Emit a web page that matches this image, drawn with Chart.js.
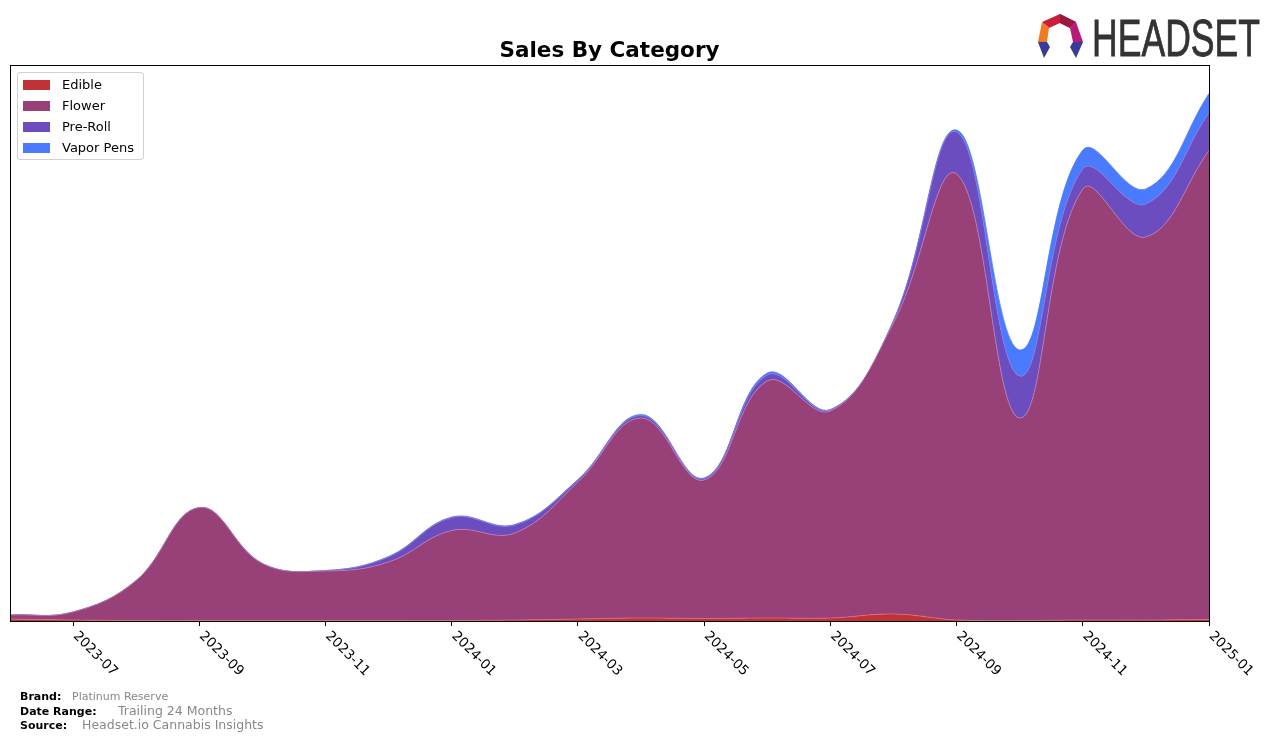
<!DOCTYPE html>
<html>
<head>
<meta charset="utf-8">
<script src="https://cdn.jsdelivr.net/npm/chart.js@4"></script>
<style>
  body { margin: 0; background: #fff; font-family: "DejaVu Sans", sans-serif; }
  #wrap { position: relative; width: 1276px; height: 741px; }
  #chart { position: absolute; left: 0; top: 0; }
  #title { position: absolute; left: 10px; width: 1199px; top: 39px; text-align: center; font-weight: bold; font-size: 21.5px; line-height: 1; }
  #legend { position: absolute; left: 17px; top: 72px; width: 125px; height: 86px; border: 1px solid #d0d0d0; border-radius: 3px; background: rgba(255,255,255,0.8); }
  .item { position: absolute; left: 5px; height: 20px; font-size: 13px; line-height: 20px; }
  .sw { position: absolute; left: 0; top: 5px; width: 27px; height: 10px; }
  .lab { position: absolute; left: 39px; white-space: nowrap; }
  .foot { position: absolute; left: 20px; font-size: 11px; line-height: 1; white-space: nowrap; }
  .foot b { color: #000; }
  .foot span { position: absolute; color: #888; }
  #logo { position: absolute; left: 1036px; top: 12px; }
</style>
</head>
<body>
<div id="wrap">
  <canvas id="chart" width="1276" height="741"></canvas>
  <div id="title">Sales By Category</div>
  <div id="legend"></div>
  <div class="foot" style="top:691px"><b>Brand:</b><span style="left:52px;top:0">Platinum Reserve</span></div>
  <div class="foot" style="top:706px"><b>Date Range:</b><span style="left:98px;top:-1px;font-size:12.5px">Trailing 24 Months</span></div>
  <div class="foot" style="top:720px"><b>Source:</b><span style="left:62px;top:-1px;font-size:12.5px">Headset.io Cannabis Insights</span></div>
  <svg id="logo" width="230" height="50">
    <polygon points="6,10 24,2 40,10 34,16 24,11 13,16" fill="#c8203c"/>
    <polygon points="24,2 40,10 34,16 24,11" fill="#9a1840"/>
    <polygon points="6,10 13,16 11,30 2,30" fill="#f07a22"/>
    <polygon points="40,10 47,30 37,30 34,16" fill="#b81a78"/>
    <polygon points="2,30 11,30 14,35 8,46" fill="#3a3a9a"/>
    <polygon points="37,30 47,30 40,46 34,35" fill="#3a3a9a"/>
    <text x="56" y="44" font-family="Liberation Sans Narrow, Liberation Sans, sans-serif" font-size="52" fill="#333" stroke="#333" stroke-width="0.8" textLength="168" lengthAdjust="spacingAndGlyphs">HEADSET</text>
  </svg>
</div>
<script>
// months from 2023-06 to 2025-01, one point each
const months = ["2023-06","2023-07","2023-08","2023-09","2023-10","2023-11","2023-12",
  "2024-01","2024-02","2024-03","2024-04","2024-05","2024-06","2024-07","2024-08",
  "2024-09","2024-10","2024-11","2024-12","2025-01"];
const tickMonths = [1, 3, 5, 7, 9, 11, 13, 15, 17, 19];

const edible    = [2, 1, 0.5, 0.5, 0.5, 0.5, 0.5, 0.5, 1, 2, 3, 2.5, 3, 3, 7, 1, 0.5, 1, 1, 1.5];
const flower    = [4, 8, 40, 113, 57, 49.5, 58.5, 90, 87, 137, 200, 138.5, 237, 207, 291, 446, 202.5, 431, 383, 469];
const preRoll   = [0, 0, 0, 0, 0, 0.5, 5, 13, 8, 2, 2.5, 1.5, 6, 1, 2, 42, 42, 20, 33, 38];
const vaporPens = [0, 0, 0, 0, 0, 0, 0.5, 0.5, 0.5, 0.5, 1, 0.5, 2, 0.5, 0.5, 2, 26, 19, 15, 19];

const names  = ["Edible", "Flower", "Pre-Roll", "Vapor Pens"];
const colors = ["#c03236", "#974178", "#6b4dbf", "#4a7bff"];
const edges  = ["#d8707a", "#c07ab0", "#8a78d8", "#4a7bff"];
const series = [edible, flower, preRoll, vaporPens];

// legend
let legendHtml = "";
names.forEach((n, i) => {
  legendHtml += `<div class="item" style="top:${2 + i * 21}px"><div class="sw" style="background:${colors[i]}"></div><div class="lab">${n}</div></div>`;
});
document.getElementById("legend").innerHTML = legendHtml;

let datasets = series.map((vals, i) => ({
  label: names[i],
  data: vals.map((v, k) => ({ x: k, y: v })),
  backgroundColor: colors[i],
  borderColor: edges[i],
  borderWidth: 0.8,
  pointRadius: 0,
  tension: 0.4,
  fill: i === 0 ? "origin" : "-1"
}));

const framePlugin = {
  id: "frame",
  afterDraw(chart) {
    const c = chart.ctx;
    const a = chart.chartArea;
    c.save();
    c.strokeStyle = "#000";
    c.lineWidth = 1;
    c.strokeRect(a.left + 0.5, a.top + 0.5, a.right - a.left, a.bottom - a.top);
    const xs = chart.scales.x;
    c.fillStyle = "#000";
    c.font = "13.5px 'DejaVu Sans'";
    c.textAlign = "left";
    c.textBaseline = "middle";
    xs.ticks.forEach(t => {
      const px = xs.getPixelForValue(t.value);
      c.save();
      c.translate(px + 2, a.bottom + 13);
      c.rotate(Math.PI / 4);
      c.fillText(months[t.value], 0, 0);
      c.restore();
    });
    c.restore();
  }
};

new Chart(document.getElementById("chart"), {
  type: "line",
  data: { datasets: datasets },
  options: {
    responsive: false,
    animation: false,
    layout: { padding: { left: 10, right: 67, top: 65, bottom: 0 } },
    plugins: { legend: { display: false }, tooltip: { enabled: false } },
    scales: {
      x: {
        type: "linear",
        min: 0,
        max: 19,
        afterBuildTicks: s => { s.ticks = tickMonths.map(v => ({ value: v })); },
        afterFit: s => { s.height = 120; },
        ticks: { display: false },
        grid: { drawOnChartArea: false, drawTicks: true, tickLength: 5, color: "#000" },
        border: { display: true, color: "#000" }
      },
      y: {
        display: false,
        stacked: true,
        min: 0,
        max: 556
      }
    }
  },
  plugins: [framePlugin]
});
</script>
</body>
</html>
